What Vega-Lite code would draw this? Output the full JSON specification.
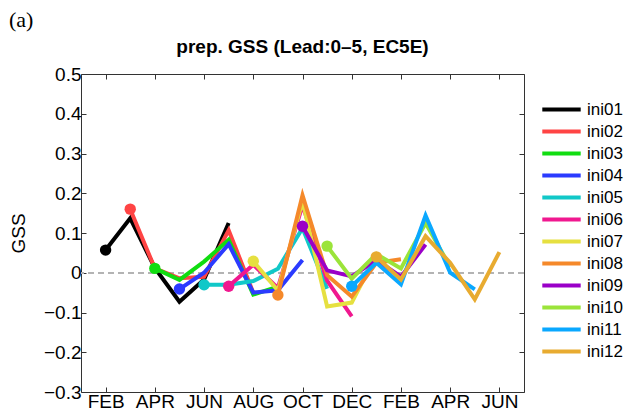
{
  "$schema": "https://vega.github.io/schema/vega-lite/v6.json",
  "background": "white",
  "padding": {"left": 8, "top": 8, "right": 2, "bottom": 0},
  "title": {"text": "(a)", "anchor": "start", "frame": "bounds", "font": "Liberation Serif", "fontSize": 22, "fontWeight": "normal", "color": "#000", "offset": 6},
  "config": {
    "view": {"stroke": "#333", "strokeWidth": 1},
    "font": "Liberation Sans",
    "axis": {"grid": false, "domain": false, "tickColor": "#333", "labelColor": "#000", "titleColor": "#000", "labelFont": "Liberation Sans", "titleFont": "Liberation Sans"}
  },
  "vconcat": [
    {
      "width": 443,
      "height": 318,
      "title": {"text": "prep. GSS (Lead:0–5, EC5E)", "font": "Liberation Sans", "fontSize": 19, "fontWeight": "bold", "color": "#000", "offset": 8},
      "data": {"values": [
        {"ini": "ini01", "lead": 0, "month": 2, "value": 0.057},
        {"ini": "ini01", "lead": 1, "month": 3, "value": 0.137},
        {"ini": "ini01", "lead": 2, "month": 4, "value": 0.012},
        {"ini": "ini01", "lead": 3, "month": 5, "value": -0.073},
        {"ini": "ini01", "lead": 4, "month": 6, "value": -0.017},
        {"ini": "ini01", "lead": 5, "month": 7, "value": 0.125},
        {"ini": "ini02", "lead": 0, "month": 3, "value": 0.16},
        {"ini": "ini02", "lead": 1, "month": 4, "value": 0.011},
        {"ini": "ini02", "lead": 2, "month": 5, "value": -0.014},
        {"ini": "ini02", "lead": 3, "month": 6, "value": -0.01},
        {"ini": "ini02", "lead": 4, "month": 7, "value": 0.107},
        {"ini": "ini02", "lead": 5, "month": 8, "value": -0.05},
        {"ini": "ini03", "lead": 0, "month": 4, "value": 0.011},
        {"ini": "ini03", "lead": 1, "month": 5, "value": -0.018},
        {"ini": "ini03", "lead": 2, "month": 6, "value": 0.028},
        {"ini": "ini03", "lead": 3, "month": 7, "value": 0.083},
        {"ini": "ini03", "lead": 4, "month": 8, "value": -0.055},
        {"ini": "ini03", "lead": 5, "month": 9, "value": -0.035},
        {"ini": "ini04", "lead": 0, "month": 5, "value": -0.041},
        {"ini": "ini04", "lead": 1, "month": 6, "value": 0.0},
        {"ini": "ini04", "lead": 2, "month": 7, "value": 0.072},
        {"ini": "ini04", "lead": 3, "month": 8, "value": -0.05},
        {"ini": "ini04", "lead": 4, "month": 9, "value": -0.044},
        {"ini": "ini04", "lead": 5, "month": 10, "value": 0.032},
        {"ini": "ini05", "lead": 0, "month": 6, "value": -0.03},
        {"ini": "ini05", "lead": 1, "month": 7, "value": -0.03},
        {"ini": "ini05", "lead": 2, "month": 8, "value": -0.021},
        {"ini": "ini05", "lead": 3, "month": 9, "value": 0.01},
        {"ini": "ini05", "lead": 4, "month": 10, "value": 0.112},
        {"ini": "ini05", "lead": 5, "month": 11, "value": -0.04},
        {"ini": "ini06", "lead": 0, "month": 7, "value": -0.034},
        {"ini": "ini06", "lead": 1, "month": 8, "value": 0.02},
        {"ini": "ini06", "lead": 2, "month": 9, "value": -0.038},
        {"ini": "ini06", "lead": 3, "month": 10, "value": 0.17},
        {"ini": "ini06", "lead": 4, "month": 11, "value": -0.02},
        {"ini": "ini06", "lead": 5, "month": 12, "value": -0.11},
        {"ini": "ini07", "lead": 0, "month": 8, "value": 0.029},
        {"ini": "ini07", "lead": 1, "month": 9, "value": -0.045},
        {"ini": "ini07", "lead": 2, "month": 10, "value": 0.18},
        {"ini": "ini07", "lead": 3, "month": 11, "value": -0.085},
        {"ini": "ini07", "lead": 4, "month": 12, "value": -0.075},
        {"ini": "ini07", "lead": 5, "month": 13, "value": 0.045},
        {"ini": "ini08", "lead": 0, "month": 9, "value": -0.056},
        {"ini": "ini08", "lead": 1, "month": 10, "value": 0.195},
        {"ini": "ini08", "lead": 2, "month": 11, "value": -0.006},
        {"ini": "ini08", "lead": 3, "month": 12, "value": -0.06},
        {"ini": "ini08", "lead": 4, "month": 13, "value": 0.025},
        {"ini": "ini08", "lead": 5, "month": 14, "value": 0.034},
        {"ini": "ini09", "lead": 0, "month": 10, "value": 0.117},
        {"ini": "ini09", "lead": 1, "month": 11, "value": 0.006},
        {"ini": "ini09", "lead": 2, "month": 12, "value": -0.009},
        {"ini": "ini09", "lead": 3, "month": 13, "value": 0.032},
        {"ini": "ini09", "lead": 4, "month": 14, "value": -0.01},
        {"ini": "ini09", "lead": 5, "month": 15, "value": 0.071},
        {"ini": "ini10", "lead": 0, "month": 11, "value": 0.067},
        {"ini": "ini10", "lead": 1, "month": 12, "value": -0.015},
        {"ini": "ini10", "lead": 2, "month": 13, "value": 0.047},
        {"ini": "ini10", "lead": 3, "month": 14, "value": 0.011},
        {"ini": "ini10", "lead": 4, "month": 15, "value": 0.125},
        {"ini": "ini10", "lead": 5, "month": 16, "value": 0.015},
        {"ini": "ini11", "lead": 0, "month": 12, "value": -0.034},
        {"ini": "ini11", "lead": 1, "month": 13, "value": 0.025},
        {"ini": "ini11", "lead": 2, "month": 14, "value": -0.029},
        {"ini": "ini11", "lead": 3, "month": 15, "value": 0.144},
        {"ini": "ini11", "lead": 4, "month": 16, "value": 0.0},
        {"ini": "ini11", "lead": 5, "month": 17, "value": -0.042},
        {"ini": "ini12", "lead": 0, "month": 13, "value": 0.04},
        {"ini": "ini12", "lead": 1, "month": 14, "value": -0.017},
        {"ini": "ini12", "lead": 2, "month": 15, "value": 0.092},
        {"ini": "ini12", "lead": 3, "month": 16, "value": 0.025},
        {"ini": "ini12", "lead": 4, "month": 17, "value": -0.067},
        {"ini": "ini12", "lead": 5, "month": 18, "value": 0.052}
      ]},
      "layer": [
        {
          "mark": {"type": "rule", "strokeDash": [6, 4], "color": "#b3b3b3", "strokeWidth": 1.5},
          "encoding": {"y": {"datum": 0, "type": "quantitative", "axis": null}}
        },
        {
          "mark": {"type": "line", "strokeWidth": 4, "strokeJoin": "miter", "strokeCap": "butt"},
          "encoding": {
            "x": {"field": "month", "type": "quantitative",
                  "scale": {"domain": [1, 19], "nice": false, "zero": false},
                  "axis": {"orient": "bottom", "title": null, "values": [2, 4, 6, 8, 10, 12, 14, 16, 18],
                           "labelExpr": "['JAN','FEB','MAR','APR','MAY','JUN','JUL','AUG','SEP','OCT','NOV','DEC'][(datum.value-1)%12]",
                           "labelFontSize": 19, "tickSize": -5, "labelPadding": 5, "labelFlush": false}},
            "y": {"field": "value", "type": "quantitative",
                  "scale": {"domain": [-0.3, 0.5], "nice": false, "zero": false},
                  "axis": {"orient": "left", "title": "GSS", "titleFontSize": 19, "titleFontWeight": "normal", "titlePadding": 15,
                           "values": [-0.3, -0.2, -0.1, 0, 0.1, 0.2, 0.3, 0.4, 0.5], "format": ".1~f",
                           "labelFontSize": 19, "tickSize": -5, "labelPadding": 5}},
            "color": {"field": "ini", "type": "nominal",
                      "scale": {"domain": ["ini01","ini02","ini03","ini04","ini05","ini06","ini07","ini08","ini09","ini10","ini11","ini12"],
                                "range": ["#000000","#ff4444","#11dd11","#2b3bff","#11c8c8","#f0188f","#e6e040","#f5892a","#9a00c8","#9be43a","#0aa8ff","#e8ab30"]},
                      "legend": {"orient": "none", "legendX": 472, "legendY": 27, "title": null,
                                 "symbolType": "M-3.2,0H3.2", "symbolSize": 144, "symbolStrokeWidth": 4,
                                 "labelFontSize": 17, "labelFont": "Liberation Sans", "labelColor": "#000", "labelOffset": 17,
                                 "rowPadding": 4, "padding": 0}}
          }
        },
        {
          "transform": [{"filter": "datum.lead == 0"}],
          "mark": {"type": "point", "filled": true, "opacity": 1, "size": 130},
          "encoding": {
            "x": {"field": "month", "type": "quantitative",
                  "axis": {"orient": "top", "title": null, "labels": false, "values": [2, 4, 6, 8, 10, 12, 14, 16, 18], "tickSize": -5}},
            "y": {"field": "value", "type": "quantitative",
                  "axis": {"orient": "right", "title": null, "labels": false, "values": [-0.3, -0.2, -0.1, 0, 0.1, 0.2, 0.3, 0.4, 0.5], "tickSize": -5}},
            "fill": {"field": "ini", "type": "nominal",
                     "scale": {"domain": ["ini01","ini02","ini03","ini04","ini05","ini06","ini07","ini08","ini09","ini10","ini11","ini12"],
                               "range": ["#000000","#ff4444","#11dd11","#2b3bff","#11c8c8","#f0188f","#e6e040","#f5892a","#9a00c8","#9be43a","#0aa8ff","#e8ab30"]},
                     "legend": null}
          }
        }
      ],
      "resolve": {"axis": {"x": "independent", "y": "independent"}}
    }
  ]
}
